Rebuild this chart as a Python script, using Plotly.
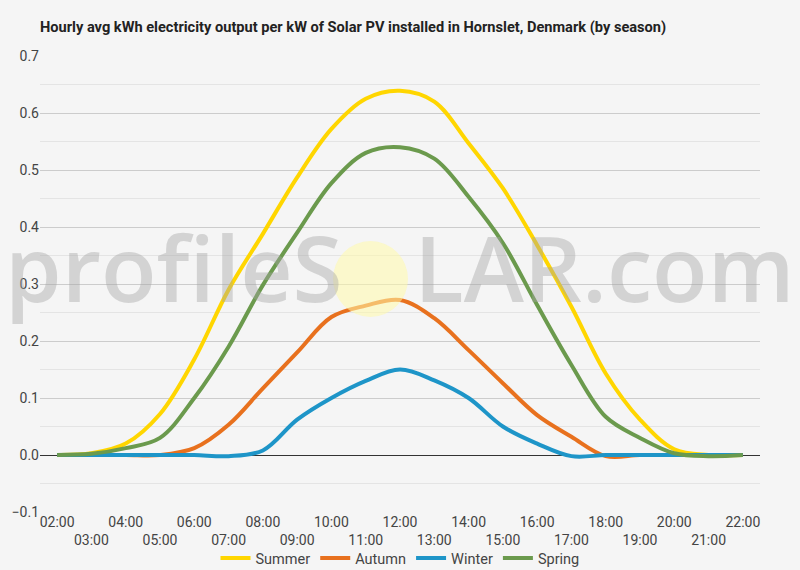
import plotly.graph_objects as go

hours = ["02:00", "03:00", "04:00", "05:00", "06:00", "07:00", "08:00", "09:00", "10:00", "11:00",
         "12:00", "13:00", "14:00", "15:00", "16:00", "17:00", "18:00", "19:00", "20:00", "21:00", "22:00"]
summer = [0, 0.003, 0.02, 0.072, 0.168, 0.29, 0.388, 0.487, 0.572, 0.625, 0.639, 0.62, 0.547, 0.468,
          0.368, 0.26, 0.143, 0.062, 0.01, 0.0, 0.0]
autumn = [0, 0, 0, 0, 0.012, 0.053, 0.117, 0.18, 0.242, 0.262, 0.272, 0.24, 0.184, 0.126, 0.07, 0.032,
          -0.002, 0, 0, 0, 0]
winter = [0, 0, 0, 0, 0, -0.002, 0.008, 0.062, 0.1, 0.13, 0.15, 0.131, 0.1, 0.05, 0.02, -0.002,
          0, 0, 0, 0, 0]
spring = [0, 0.002, 0.012, 0.03, 0.1, 0.19, 0.298, 0.39, 0.477, 0.53, 0.54, 0.52, 0.453, 0.372,
          0.263, 0.158, 0.067, 0.03, 0.003, -0.002, 0]

series = [("Summer", summer, "#FFD600"),
          ("Autumn", autumn, "#E8711E"),
          ("Winter", winter, "#1E95C8"),
          ("Spring", spring, "#6B9A4D")]

ticktext = [h if i % 2 == 0 else "<br>" + h for i, h in enumerate(hours)]

fig = go.Figure()
for name, vals, col in series:
    fig.add_trace(go.Scatter(x=hours, y=vals, name=name, mode="lines",
                             line=dict(color=col, width=4, shape="spline", smoothing=1.0)))

fig.update_layout(
    width=800, height=570,
    paper_bgcolor="#f5f5f5", plot_bgcolor="#f5f5f5",
    margin=dict(l=40, r=40, t=56, b=58, autoexpand=False),
    font=dict(family="Roboto", size=14, color="#444444"),
    title=dict(text="<b>Hourly avg kWh electricity output per kW of Solar PV installed in Hornslet, Denmark (by season)</b>",
               x=40 / 800, xanchor="left", y=1 - 27 / 570, yanchor="middle",
               font=dict(family="Roboto", size=14.6, color="#222222")),
    showlegend=True,
    legend=dict(orientation="h", x=0.5, xanchor="center", y=(512 - 558) / 456, yanchor="middle",
                font=dict(size=14.5, color="#444444"), bgcolor="rgba(0,0,0,0)", itemwidth=30),
    xaxis=dict(type="category", range=[-0.5, 20.5], showgrid=False, showline=False, zeroline=False,
               tickmode="array", tickvals=hours, ticktext=ticktext, ticks="", tickangle=0,
               automargin=False, tickfont=dict(size=14)),
    yaxis=dict(range=[-0.1, 0.7], dtick=0.1, tick0=0, showgrid=True, gridcolor="#cccccc", gridwidth=1,
               zeroline=True, zerolinecolor="#333333", zerolinewidth=1, showline=False, ticks="",
               tickformat=".1f", tickfont=dict(size=14), automargin=False,
               minor=dict(dtick=0.05, tick0=0, showgrid=True, gridcolor="#e4e4e4", gridwidth=1)),
)

# watermark
fig.add_annotation(xref="paper", yref="paper", x=(3 - 40) / 720, y=(512 - 331) / 456,
                   xanchor="left", yanchor="bottom", showarrow=False,
                   text="profileS<span style='color:rgba(0,0,0,0)'>O</span>LAR.com",
                   font=dict(family="Open Sans", size=91, weight=600, color="rgba(165,165,165,0.42)"))
fig.add_shape(type="circle", xref="paper", yref="paper",
              x0=(333 - 40) / 720, x1=(408 - 40) / 720, y0=(512 - 317) / 456, y1=(512 - 241) / 456,
              fillcolor="rgba(255,250,170,0.55)", line=dict(width=0), layer="above")

fig.write_html("out.html")
